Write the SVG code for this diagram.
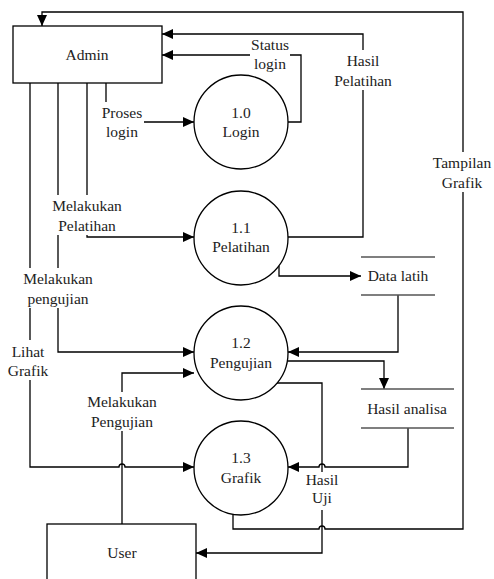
<svg xmlns="http://www.w3.org/2000/svg" width="494" height="579" viewBox="0 0 494 579">
<defs>
<marker id="arr" markerWidth="12" markerHeight="10" refX="11" refY="5" orient="auto" markerUnits="userSpaceOnUse">
<path d="M0,0 L11,5 L0,10 Z" fill="#000"/>
</marker>
</defs>
<style>
text{font-family:'Liberation Serif','DejaVu Serif','Noto Serif',serif;font-size:15.5px;fill:#222;text-anchor:middle}
.ent{fill:#fff;stroke:#000;stroke-width:1.3}
.proc{fill:#fff;stroke:#000;stroke-width:1.3}
.store{stroke:#555;stroke-width:1.5}
.c{fill:none;stroke:#000;stroke-width:1.3;marker-end:url(#arr)}
.bg{fill:#fff}
</style>
<rect width="494" height="579" fill="#fff"/>
<g id="connectors">
<path class="c" d="M233,515 V529 H319 a3,3 0 0 1 6,0 H463 V12 H42 V26"/>
<path class="c" d="M288,122 H301 V55 H162"/>
<path class="c" d="M288,237 H363 V34 H162"/>
<path class="c" d="M106,83 V122 H194"/>
<path class="c" d="M87,83 V237 H194"/>
<path class="c" d="M58,83 V352 H194"/>
<path class="c" d="M30,83 V467 H119 a3,3 0 0 1 6,0 H194"/>
<path class="c" d="M122,524 V373 H194"/>
<path class="c" d="M279,266 V276 H361"/>
<path class="c" d="M398,295 V352 H288"/>
<path class="c" d="M286,361 H384 V389"/>
<path class="c" d="M408,428 V467 H325 a3,3 0 0 0 -6,0 H288"/>
<path class="c" d="M277,383 H322 V553 H196"/>
</g>
<g id="labels">
<rect class="bg" x="250" y="37" width="40" height="36"/>
<text x="270" y="50">Status</text><text x="270" y="69">login</text>
<rect class="bg" x="334" y="50" width="58" height="40"/>
<text x="363" y="66">Hasil</text><text x="363" y="86">Pelatihan</text>
<rect class="bg" x="432" y="152" width="62" height="40"/>
<text x="462" y="168">Tampilan</text><text x="462" y="188">Grafik</text>
<rect class="bg" x="100" y="102" width="44" height="39"/>
<text x="122" y="118">Proses</text><text x="122" y="137">login</text>
<rect class="bg" x="52" y="195" width="70" height="40"/>
<text x="87" y="211">Melakukan</text><text x="87" y="231">Pelatihan</text>
<rect class="bg" x="22" y="268" width="72" height="40"/>
<text x="58" y="284">Melakukan</text><text x="58" y="304">pengujian</text>
<rect class="bg" x="8" y="340" width="42" height="40"/>
<text x="28" y="357">Lihat</text><text x="28" y="376">Grafik</text>
<rect class="bg" x="84" y="392" width="76" height="39"/>
<text x="122" y="407">Melakukan</text><text x="122" y="427">Pengujian</text>
<rect class="bg" x="305" y="472" width="35" height="38"/>
<text x="322" y="485">Hasil</text><text x="322" y="503">Uji</text>
</g>
<g id="admin">
<rect class="ent" x="13" y="26" width="149" height="57"/>
<text x="87" y="60">Admin</text>
</g>
<g id="user">
<rect class="ent" x="47" y="524" width="149" height="70"/>
<text x="122" y="558">User</text>
</g>
<g id="p10">
<circle class="proc" cx="241" cy="122" r="47"/>
<text x="241" y="118">1.0</text><text x="241" y="137">Login</text>
</g>
<g id="p11">
<circle class="proc" cx="241" cy="238" r="47"/>
<text x="241" y="233">1.1</text><text x="241" y="252">Pelatihan</text>
</g>
<g id="p12">
<circle class="proc" cx="241" cy="353" r="47"/>
<text x="241" y="348">1.2</text><text x="241" y="368">Pengujian</text>
</g>
<g id="p13">
<circle class="proc" cx="241" cy="468" r="47"/>
<text x="241" y="463">1.3</text><text x="241" y="483">Grafik</text>
</g>
<g id="datalatih">
<line class="store" x1="361" y1="257" x2="435" y2="257"/>
<line class="store" x1="361" y1="295" x2="435" y2="295"/>
<text x="398" y="281">Data latih</text>
</g>
<g id="hasilanalisa">
<line class="store" x1="361" y1="389" x2="454" y2="389"/>
<line class="store" x1="361" y1="428" x2="454" y2="428"/>
<text x="407" y="414">Hasil analisa</text>
</g>
</svg>
